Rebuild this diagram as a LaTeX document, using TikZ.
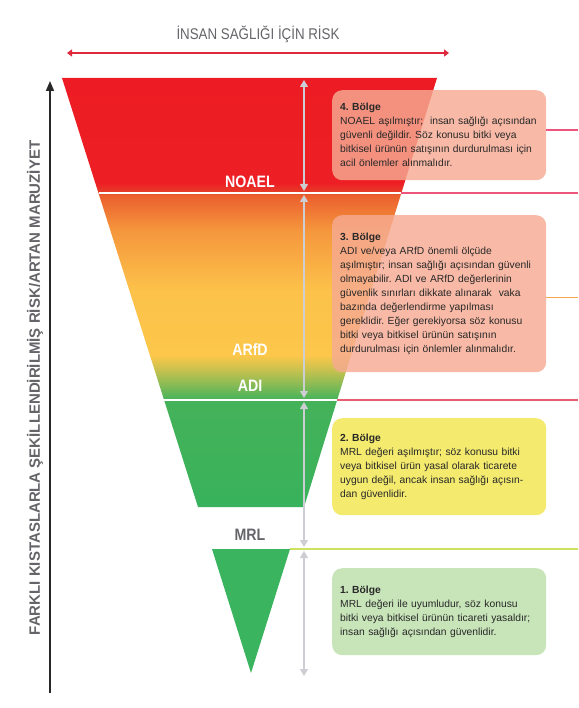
\documentclass[tikz,border=0pt]{standalone}
\usepackage{fontspec}
\setmainfont{Liberation Sans}
\newfontfamily\narrowfont[FakeStretch=0.86]{Liberation Sans}
\usetikzlibrary{arrows.meta,positioning}
\frenchspacing

\definecolor{riskred}{RGB}{222,40,60}
\definecolor{axisgray}{RGB}{100,100,105}
\definecolor{dimgray}{RGB}{205,205,212}
\definecolor{textgray}{RGB}{40,40,40}
\definecolor{salmonbox}{RGB}{246,170,146}
\definecolor{yellowbox}{RGB}{243,234,110}
\definecolor{greenbox}{RGB}{200,228,185}
\definecolor{funnelgreen}{RGB}{58,180,95}
\definecolor{pinkline}{RGB}{238,85,125}
\definecolor{orangeline}{RGB}{245,165,75}
\definecolor{adiline}{RGB}{230,95,115}
\definecolor{mrlline}{RGB}{205,225,95}

\pgfdeclareverticalshading{funnelshade}{100bp}{
  rgb(0bp)=(0.22,0.70,0.36);
  rgb(25bp)=(0.22,0.70,0.36);
  rgb(37.47bp)=(0.27,0.70,0.35);
  rgb(38.05bp)=(0.35,0.71,0.35);
  rgb(40.97bp)=(0.78,0.76,0.31);
  rgb(42.72bp)=(0.99,0.78,0.29);
  rgb(50.29bp)=(0.99,0.76,0.29);
  rgb(57.28bp)=(0.96,0.59,0.24);
  rgb(61.36bp)=(0.92,0.37,0.18);
  rgb(61.71bp)=(0.90,0.24,0.16);
  rgb(62.76bp)=(0.93,0.12,0.14);
  rgb(75bp)=(0.93,0.11,0.14);
  rgb(100bp)=(0.93,0.11,0.14)}

\begin{document}
\begin{tikzpicture}[
  x=1pt, y=-1pt,
  zonebox/.style={rounded corners=10pt, anchor=north west, align=left, text width=198pt, inner sep=8pt,
    text=textgray, font=\fontsize{10.3}{14}\selectfont},
  level/.style={font=\narrowfont\bfseries\fontsize{16.5}{18}\selectfont, text=white},
  dimarr/.style={{Triangle[width=8pt,length=7pt]}-{Triangle[width=8pt,length=7pt]}, dimgray, line width=1.2pt},
  cut/.style={white, line width=1.6pt},
  mark line/.style={line width=1.4pt, draw opacity=1}
]
\useasboundingbox (0,0) rectangle (578,708);
\coordinate (edge) at (578,0);

% title and axes
\node[font=\narrowfont\fontsize{15.5}{17}\selectfont, text=axisgray] (title) at (258,34) {İNSAN SAĞLIĞI İÇİN RİSK};
\coordinate (rl) at (67,53);
\coordinate (rr) at (449,53);
\draw[{Triangle[width=7pt,length=5pt]}-{Triangle[width=7pt,length=5pt]}, riskred, line width=1.3pt] (rl) -- (rr);
\coordinate (ab) at (50,693);
\coordinate (at) at (50,81);
\draw[-{Triangle[width=8pt,length=10pt]}, textgray, line width=1.6pt] (ab) -- (at);
\node[rotate=90, font=\bfseries\fontsize{15}{17}\selectfont, text=axisgray] (yaxis) at (35,388)
  {FARKLI KISTASLARLA ŞEKİLLENDİRİLMİŞ RİSK/ARTAN MARUZİYET};

% funnel
\shade[shading=funnelshade] (62,78) -- (437,78) -- (304,507) -- (198,507) -- cycle;
\fill[funnelgreen] (212,549) -- (290,549) -- (251,673) -- cycle;
\draw[cut] (98.5,193) -- (401,193);
\draw[cut] (164,400) -- (337,400);
\draw[mark line, pinkline] (401,193) -- (edge |- 0,193);
\draw[mark line, adiline] (337,400) -- (edge |- 0,400);
\draw[mark line, mrlline] (290,549) -- (edge |- 0,549);

\node[level] (noael) at (250,182) {NOAEL};
\node[level] (arfd) at (250,350) {ARfD};
\node[level] (adi) at (250,386) {ADI};
\node[level, text=axisgray] (mrl) at (250,535) {MRL};

% dimension arrows
\coordinate (d0) at (304,78);
\coordinate (d1) at (304,193);
\coordinate (d2) at (304,400);
\coordinate (d3) at (304,549);
\coordinate (d4) at (304,678);
\foreach \a/\b in {d0/d1,d1/d2,d2/d3,d3/d4}
  \draw[dimarr, shorten <=2pt, shorten >=2pt] (\a) -- (\b);

% zone boxes
\node[zonebox, fill=salmonbox, fill opacity=0.82, text opacity=1, minimum height=90pt] (b4) at (332,90)
  {\textbf{4. Bölge}\\NOAEL aşılmıştır;\ \ insan sağlığı açısından\\güvenli değildir. Söz konusu bitki veya\\bitkisel ürünün satışının durdurulması için\\acil önlemler alınmalıdır.};
\node[zonebox, fill=salmonbox, fill opacity=0.82, text opacity=1, minimum height=157pt] (b3) at (332,215)
  {\textbf{3. Bölge}\\ADI ve/veya ARfD önemli ölçüde\\aşılmıştır; insan sağlığı açısından güvenli\\olmayabilir. ADI ve ARfD değerlerinin\\güvenlik sınırları dikkate alınarak\ \ vaka\\bazında değerlendirme yapılması\\gereklidir. Eğer gerekiyorsa söz konusu\\bitki veya bitkisel ürünün satışının\\durdurulması için önlemler alınmalıdır.};
\node[zonebox, fill=yellowbox, minimum height=97pt] (b2) at (332,418)
  {\textbf{2. Bölge}\\MRL değeri aşılmıştır; söz konusu bitki\\veya bitkisel ürün yasal olarak ticarete\\uygun değil, ancak insan sağlığı açısın-\\dan güvenlidir.};
\node[zonebox, fill=greenbox, minimum height=87pt] (b1) at (332,568)
  {\textbf{1. Bölge}\\MRL değeri ile uyumludur, söz konusu\\bitki veya bitkisel ürünün ticareti yasaldır;\\insan sağlığı açısından güvenlidir.};

\draw[mark line, pinkline] ([yshift=5pt]b4.east) -- ([yshift=5pt]b4.east -| edge);
\draw[mark line, orangeline] ([yshift=-3.5pt]b3.east) -- ([yshift=-3.5pt]b3.east -| edge);
\end{tikzpicture}
\end{document}
